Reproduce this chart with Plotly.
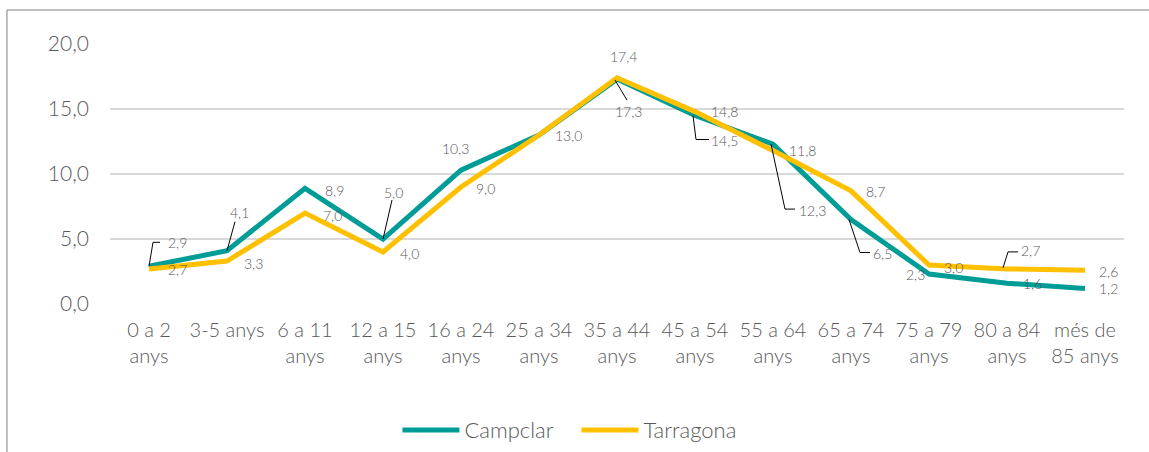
import plotly.graph_objects as go

categories = ["0 a 2<br>anys", "3-5 anys", "6 a 11<br>anys", "12 a 15<br>anys",
              "16 a 24<br>anys", "25 a 34<br>anys", "35 a 44<br>anys", "45 a 54<br>anys",
              "55 a 64<br>anys", "65 a 74<br>anys", "75 a 79<br>anys", "80 a 84<br>anys",
              "més de<br>85 anys"]
campclar = [2.9, 4.1, 8.9, 5.0, 10.3, 13.0, 17.3, 14.5, 12.3, 6.5, 2.3, 1.6, 1.2]
tarragona = [2.7, 3.3, 7.0, 4.0, 9.0, 13.0, 17.4, 14.8, 11.8, 8.7, 3.0, 2.7, 2.6]
y_ticks = [0, 5, 10, 15, 20]

TEAL = "#009C96"
GOLD = "#FFC000"
TXT = "#595959"
FONT = "Lato"

# label offsets in screen px (dx right, dy down); None = no label
camp_off = [(28, -24), (12, -38), (29, 2), (10, -47), (-6, -22), None, (11, 32),
            (29, 25), (39, 66), (31, 34), (-14, 0), (25, 0), (23, 0)]
tarr_off = [(28, 1), (26, 2), (27, 2), (26, 1), (24, 1), (29, 0), (6, -21),
            (29, 0), (29, 0), (24, 1), (24, 2), (23, -18), (23, 1)]
# leader lines (screen px, dy down), keyed by index
camp_lead = {0: [(0, 0), (4, -24), (11, -24)], 1: [(0, 0), (8, -29)],
             3: [(0, 0), (9, -39)], 6: [(-2, 1), (10, 21)],
             7: [(-2, 0), (1, 24), (14, 24)], 8: [(-2, 0), (12, 65), (22, 65)],
             9: [(-2, 0), (9, 33), (19, 33)]}
tarr_lead = {11: [(-4, -1), (1, -17), (11, -17)]}

fig = go.Figure()
fig.add_trace(go.Scatter(x=categories, y=campclar, mode="lines", name="Campclar",
                         line=dict(color=TEAL, width=5), hoverinfo="y"))
fig.add_trace(go.Scatter(x=categories, y=tarragona, mode="lines", name="Tarragona",
                         line=dict(color=GOLD, width=5), hoverinfo="y"))

def fmt(v):
    return f"{v:.1f}".replace(".", ",")

annotations = []
shapes = []
for vals, offs, leads in ((campclar, camp_off, camp_lead), (tarragona, tarr_off, tarr_lead)):
    for i, (c, v) in enumerate(zip(categories, vals)):
        if offs[i] is None:
            continue
        dx, dy = offs[i]
        annotations.append(dict(x=c, y=v, xref="x", yref="y", text=fmt(v), showarrow=False,
                                xshift=dx, yshift=-dy,
                                font=dict(family=FONT, size=14, color=TXT, weight=300)))
        if i in leads:
            pts = leads[i]
            path = "M" + " L".join(f"{px},{-py}" for px, py in pts)
            shapes.append(dict(type="path", xref="x", yref="y", xsizemode="pixel",
                               ysizemode="pixel", xanchor=i, yanchor=v, path=path,
                               line=dict(color="#000000", width=1)))

# outer chart border
shapes.append(dict(type="rect", xref="paper", yref="paper", x0=-0.1016, x1=1.04,
                   y0=-0.62, y1=1.1308, line=dict(color="#7F7F7F", width=1), layer="below"))

fig.update_layout(
    width=1149, height=452,
    margin=dict(l=110, r=25, t=44, b=148, autoexpand=False),
    paper_bgcolor="white", plot_bgcolor="white",
    separators=",.",
    font=dict(family=FONT, color=TXT, weight=300),
    showlegend=True,
    legend=dict(orientation="h", x=0.46, xanchor="center", y=-0.485, yanchor="middle",
                font=dict(family=FONT, size=22, color=TXT, weight=300), itemwidth=57,
                entrywidth=107, bgcolor="rgba(0,0,0,0)"),
    annotations=annotations,
    shapes=shapes,
)
fig.update_xaxes(type="category", range=[-0.5, 12.5], showgrid=False, showline=False,
                 zeroline=False, ticks="", ticklabelstandoff=12, automargin=False,
                 tickfont=dict(family=FONT, size=20, color=TXT, weight=300),
                 tickangle=0)
fig.update_yaxes(range=[0, 20], tickvals=y_ticks, tickformat=".1f", showgrid=True,
                 gridcolor="#D9D9D9", gridwidth=1.5, zeroline=False, showline=False,
                 ticks="", ticklabelstandoff=20, automargin=False,
                 tickfont=dict(family=FONT, size=21, color=TXT, weight=300))

fig.write_html("out.html", config={"displayModeBar": False},
               post_script="document.body.style.margin='0px';document.body.style.overflow='hidden';")
